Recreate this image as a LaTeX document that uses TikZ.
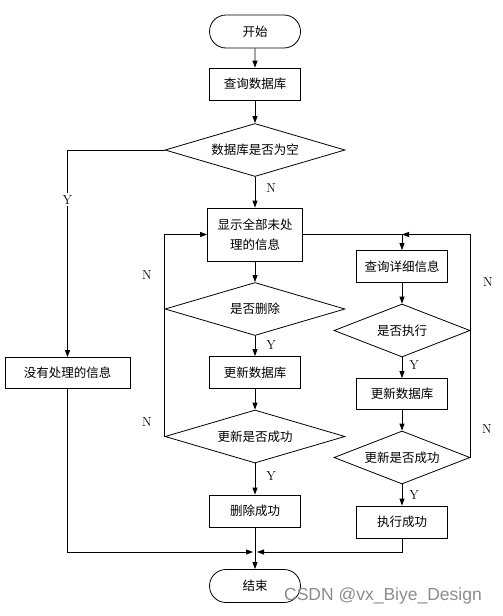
\documentclass[tikz,border=0pt]{standalone}
\usepackage{fontspec}
\newfontfamily\cjk{Noto Sans CJK SC}
\newfontfamily\wmfont{Liberation Sans}
\usetikzlibrary{arrows.meta, positioning, calc, shapes.misc, shapes.geometric}

\begin{document}
\begin{tikzpicture}[
        x=1pt, y=-1pt,
        line width=0.8pt,
        box/.style={rectangle, draw, fill=white, minimum width=91pt, minimum height=32pt, inner sep=0pt, align=center, font=\cjk\fontsize{12.5}{20}\selectfont},
        term/.style={rounded rectangle, draw, fill=white, minimum width=91pt, minimum height=33pt, inner sep=0pt, font=\cjk\fontsize{12.5}{20}\selectfont},
        decision/.style={diamond, draw, fill=white, aspect=3.4, inner sep=0pt, minimum width=180pt, minimum height=53pt, font=\cjk\fontsize{12.5}{20}\selectfont},
        lbl/.style={font=\fontsize{13}{15}\selectfont, inner sep=2pt},
        arr/.style={-{Triangle[length=7pt, width=5pt]}}
    ]
        \useasboundingbox (0,0) rectangle (503,616);

        % main column
        \node[term] (start) at (255,31.5) {开始};
        \node[box] (q1) at (255,84) {查询数据库};
        \node[decision] (d1) at (255,150) {数据库是否为空};
        \node[box, minimum width=95pt, minimum height=53pt] (show) at (255,234.5) {显示全部未处\\理的信息};
        \node[decision] (dd) at (255,309) {是否删除};
        \node[box] (upd1) at (255,372.5) {更新数据库};
        \node[decision] (dok1) at (255,436.5) {更新是否成功};
        \node[box] (delok) at (255,511) {删除成功};
        \node[term] (end) at (255,586) {结束};
        \coordinate (m) at (255,552);

        % left branch
        \node[box, minimum width=125pt, minimum height=31pt] (none) at (67.5,373) {没有处理的信息};

        % right column
        \node[box] (q2) at (402,266.5) {查询详细信息};
        \node[decision, minimum width=136pt] (de) at (402,330.5) {是否执行};
        \node[box, minimum height=31pt] (upd2) at (402,394) {更新数据库};
        \node[decision, minimum width=136pt] (dok2) at (402,457.5) {更新是否成功};
        \node[box] (exok) at (402,522) {执行成功};

        % loose labels
        \node[lbl] (nl1) at (147,275) {N};
        \node[lbl] (nl2) at (147,422) {N};
        \node[lbl] (nr1) at (488,282) {N};
        \node[lbl] (nr2) at (487,429) {N};

        \draw[arr] (start) -- (q1);
        \draw[arr] (q1) -- (d1);
        \draw[arr] (d1) -- node[lbl, right=9pt, pos=0.35] (n0) {N} (show);
        \draw[arr] (d1.west) -| node[lbl, fill=white, pos=0.62] (y0) {Y} (none.north);
        \draw[arr] (show) -- (dd);
        \draw[arr] (dd) -- node[lbl, right=9pt, pos=0.45] (y1) {Y} (upd1);
        \draw[arr] (upd1) -- (dok1);
        \draw[arr] (dok1) -- node[lbl, right=9pt, pos=0.4] (y2) {Y} (delok);
        \draw[arr] (dok1.west) |- (show.west);
        \draw[arr] (show.east) -| (q2.north);
        \draw[arr] (q2) -- (de);
        \draw[arr] (de) -- node[lbl, right=5pt, pos=0.35] (y3) {Y} (upd2);
        \draw[arr] (upd2) -- (dok2);
        \draw[arr] (dok2) -- node[lbl, right=5pt, pos=0.5] (y4) {Y} (exok);
        \draw[arr] (dok2.east) |- (q2.north |- show.east);
        \draw[arr] (delok) -- (end);
        \draw[arr, shorten >=2pt] (none.south) |- (m);
        \draw[arr, shorten >=2pt] (exok.south) |- (m);

        \node[font=\wmfont\fontsize{17.5}{20}\selectfont, text=black!45] (wm) at (383,596) {CSDN @vx\_Biye\_Design};
    \end{tikzpicture}
\end{document}
